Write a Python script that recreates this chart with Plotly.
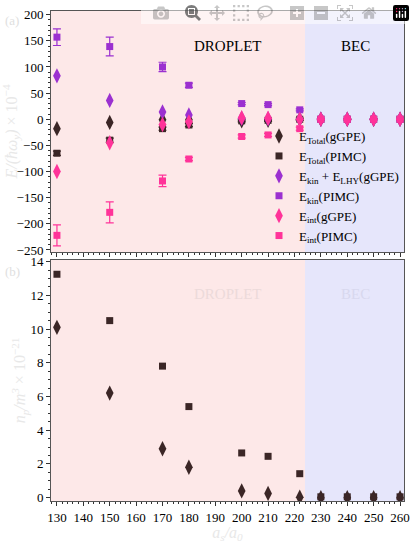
import plotly.graph_objects as go
from plotly.subplots import make_subplots

a_s = [130, 150, 170, 180, 200, 210, 222, 230, 240, 250, 260]

# panel (a): energies (x 10^-4)
e_total_gpe = [-18, -6, -1, -1, -3, -2, 0, 0, 0, 0, 0]
e_total_pimc = [-65, -40, -18, -11, -3, -2, 0, 0, 0, 0, 0]
e_total_pimc_err = [4, 4, 3, 3, 2, 2, 2, 1, 1, 1, 1]
e_kin_lhy_gpe = [83, 36, 14, 8, 2, 1, 0, 0, 0, 0, 0]
e_kin_pimc = [157, 139, 100, 65, 30, 28, 18, 0, 0, 0, 0]
e_kin_pimc_err = [16, 18, 9, 4, 2, 2, 2, 1, 1, 1, 1]
e_int_gpe = [-100, -45, -10, -5, 3, 2, 0, 0, 0, 0, 0]
e_int_pimc = [-222, -178, -118, -76, -33, -30, -18, 0, 0, 0, 0]
e_int_pimc_err = [20, 20, 11, 3, 3, 3, 3, 1, 1, 1, 1]

# panel (b): peak density (x 10^21)
n_pimc = [13.25, 10.5, 7.8, 5.4, 2.65, 2.45, 1.42, 0.05, 0.05, 0.05, 0.05]
n_gpe = [10.1, 6.2, 2.9, 1.8, 0.4, 0.25, 0.02, 0.0, 0.0, 0.0, 0.0]

dark = '#3b2626'
purple = '#9b30d0'
pink = '#ff3399'

fig = make_subplots(rows=2, cols=1, shared_xaxes=False, vertical_spacing=0.016)

def add_pts(y, color, symbol, name, err=None, row=1, show=True, size=9):
    fig.add_trace(go.Scatter(
        x=a_s, y=y, mode='markers', name=name, showlegend=show,
        marker=dict(color=color, symbol=symbol, size=size),
        error_y=dict(array=err, color=color, thickness=1.2, width=4) if err else None),
        row=row, col=1)

add_pts(e_total_gpe, dark, 'diamond-tall', 'E<sub>Total</sub>(gGPE)', size=11)
add_pts(e_total_pimc, dark, 'square', 'E<sub>Total</sub>(PIMC)', e_total_pimc_err, size=7)
add_pts(e_kin_lhy_gpe, purple, 'diamond-tall', 'E<sub>kin</sub> + E<sub>LHY</sub>(gGPE)', size=11)
add_pts(e_kin_pimc, purple, 'square', 'E<sub>kin</sub>(PIMC)', e_kin_pimc_err, size=7)
add_pts(e_int_gpe, pink, 'diamond-tall', 'E<sub>int</sub>(gGPE)', size=11)
add_pts(e_int_pimc, pink, 'square', 'E<sub>int</sub>(PIMC)', e_int_pimc_err, size=7)

add_pts(n_pimc, dark, 'square', 'n PIMC', row=2, show=False, size=7)
add_pts(n_gpe, dark, 'diamond-tall', 'n gGPE', row=2, show=False, size=11)

for yr in ['y domain', 'y2 domain']:
    xr = 'x' if yr == 'y domain' else 'x2'
    fig.add_shape(type='rect', xref=xr, yref=yr, x0=127.75, x1=224, y0=0, y1=1,
                  fillcolor='#fde8e8', line_width=0, layer='below')
    fig.add_shape(type='rect', xref=xr, yref=yr, x0=224, x1=261.5, y0=0, y1=1,
                  fillcolor='#e6e6fb', line_width=0, layer='below')

fig.add_annotation(text='DROPLET', xref='x', yref='y', x=195, y=140, showarrow=False,
                   font=dict(size=15, color='black'))
fig.add_annotation(text='BEC', xref='x', yref='y', x=243, y=140, showarrow=False,
                   font=dict(size=15, color='black'))
fig.add_annotation(text='DROPLET', xref='x2', yref='y2', x=195, y=12.1, showarrow=False,
                   font=dict(size=15, color='#ecdada'))
fig.add_annotation(text='BEC', xref='x2', yref='y2', x=243, y=12.1, showarrow=False,
                   font=dict(size=15, color='#d8d8ee'))
fig.add_annotation(text='(a)', xref='paper', yref='paper', x=-0.135, y=1.0, showarrow=False,
                   font=dict(size=13, color='#e0e0e0'), xanchor='left')
fig.add_annotation(text='(b)', xref='paper', yref='paper', x=-0.135, y=0.487, showarrow=False,
                   font=dict(size=13, color='#e0e0e0'), xanchor='left', yanchor='top')

ax = dict(showline=True, linecolor='#555', mirror=True, ticks='outside', ticklen=4,
          tickcolor='#333', showgrid=False, zeroline=False,
          minor=dict(ticks='outside', ticklen=2, tickcolor='#333'))
fig.update_xaxes(**ax, range=[127.75, 261.5], dtick=10)
fig.update_xaxes(showticklabels=False, row=1, col=1)
fig.update_xaxes(title=dict(text='<i>a<sub>s</sub>/a<sub>0</sub></i>', font=dict(size=16, color='#e8e8e8'),
                            standoff=2), row=2, col=1)
fig.update_yaxes(**ax)
fig.update_yaxes(range=[-254, 207], dtick=50, row=1, col=1,
                 title=dict(text='<i>E/(ħω<sub>y</sub>)</i> × 10<sup>−4</sup>',
                            font=dict(size=16, color='#e8e8e8'), standoff=0))
fig.update_yaxes(range=[-0.2, 14.1], dtick=2, row=2, col=1,
                 title=dict(text='<i>n<sub>p</sub>/m<sup>3</sup></i> × 10<sup>−21</sup>',
                            font=dict(size=16, color='#e8e8e8'), standoff=0))

fig.update_layout(
    width=415, height=543, margin=dict(l=50, r=8, t=5, b=40),
    paper_bgcolor='white', plot_bgcolor='white',
    font=dict(family='Liberation Serif', size=13, color='black'),
    legend=dict(x=1, y=0.51, xanchor='right', yanchor='bottom', bgcolor='rgba(0,0,0,0)',
                font=dict(size=13), itemwidth=30, tracegroupgap=0),
)
fig.write_html("out.html",
               post_script="document.body.style.margin='0';document.body.style.overflow='hidden';")
